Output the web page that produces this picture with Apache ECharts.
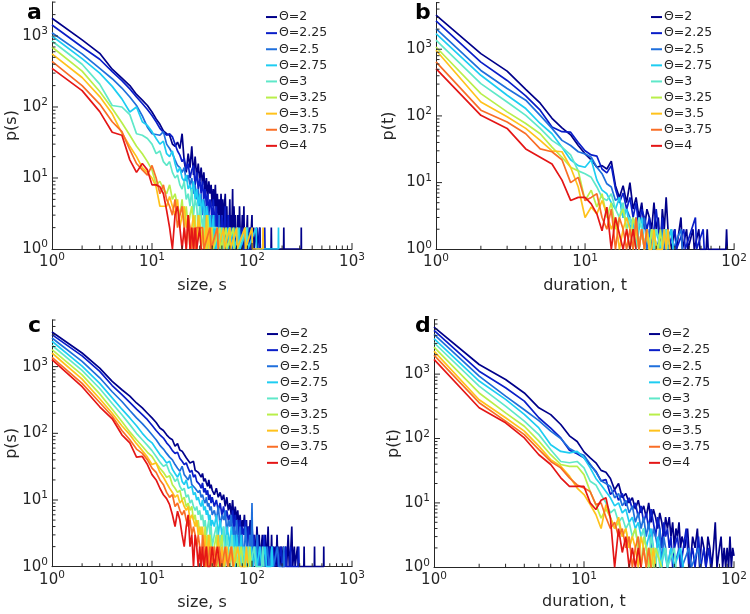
<!DOCTYPE html>
<html>
<head>
<meta charset="utf-8">
<script src="https://cdn.jsdelivr.net/npm/echarts@6/dist/echarts.min.js"></script>
<style>html,body{margin:0;padding:0;background:#fff}#chart{width:750px;height:614px}</style>
</head>
<body>
<div id="chart"></div>
<script>
// ---------- categories ----------
const thetaNames = ['Θ=2','Θ=2.25','Θ=2.5','Θ=2.75','Θ=3','Θ=3.25','Θ=3.5','Θ=3.75','Θ=4'];
const thetaColors = ['#00008a','#0a1ec8','#1f6fdc','#1ecdf2','#5fe8c9','#b9ef4a','#ffc21c','#f96e26','#e41616'];

// ---------- panel a : p(s) vs size s (head = values at s = 1,2,3,...; tail = [s, p]) ----------
const a_T2 = [1780,880,570,340,255,200,150,125,105,85,68,57,46,42,40,30,28,32,26,42,17,12,22,14,28,11,20,10,16,9,14,8,12,6,10,5,9,6,8,4,7,4,8,3,6,3,5,2,6,3,5,2,4,6,2,4,1,3,2,5,1,3,2,7,1,4,2,3,1,2,1,3];
const a_T2_tail = [[74,1],[75,4],[76,2],[78,1],[80,3],[81,1],[83,4],[84,1],[86,2],[87,1],[90,3],[91,1],[95,2],[96,1],[100,3],[101,1],[104,2],[105,1],[112,2],[113,1],[120,2],[121,1],[155,1],[156,2],[157,1],[207,1],[208,2],[209,1],[310,1],[311,2],[312,1]];
const a_T225 = [1430,700,470,315,235,180,138,112,92,76,62,50,44,40,42,38,30,24,21,17,19,13,16,10,13,15,8,12,7,10,6,9,5,7,4,6,3,5,4,2,5,3,2,4,1,3,2,2,1,3,2,1,2,4,1,2,1,3,1,2];
const a_T225_tail = [[63,1],[65,2],[66,1],[72,2],[73,1],[80,2],[81,1],[95,1],[96,2],[97,1],[118,1],[119,2],[120,1],[133,1],[134,2],[135,1]];
const a_T25 = [1110,560,350,250,185,138,105,75,52,42,41,40,45,30,26,22,18,15,14,12,14,9,11,8,10,6,8,5,7,4,6,3,5,4,2,4,3,2,3,1,2,3,1,2,2,1,3,1,2,1];
const a_T25_tail = [[55,2],[56,1],[62,2],[63,1],[70,2],[71,1],[85,2],[86,1],[100,2],[101,1]];
const a_T275 = [1000,480,300,195,130,85,100,62,55,45,36,30,33,22,20,24,16,12,14,10,9,11,7,8,6,9,5,7,4,6,3,5,4,2,4,3,2,3,1,2,3,1,2,1,2,1,2,1,1,2];
const a_T275_tail = [[52,1],[58,2],[59,1],[66,2],[67,1],[75,2],[76,1],[90,2],[91,1],[110,2],[111,1],[183,1],[184,2],[185,1]];
const a_T3 = [850,400,210,105,100,78,42,40,36,30,22,24,17,15,17,12,10,11,8,7,9,5,6,4,7,3,5,4,2,4,3,2,3,1,2,3,1,2,1,2];
const a_T3_tail = [[45,2],[46,1],[50,2],[51,1],[60,2],[61,1],[72,2],[73,1],[88,2],[89,1]];
const a_T325 = [700,320,165,95,60,40,28,22,17,13,8,9,7,6,8,5,6,4,3,5,2,4,2,3,4,2,3,1,2,3,1,2,1,2,1,3];
const a_T325_tail = [[38,1],[40,2],[41,1],[48,2],[49,1],[55,2],[56,1],[65,2],[66,1]];
const a_T35 = [560,260,140,80,43,28,20,14,12,10,7.5,4,4,4,5.5,4,3,5,2,3,4,2,3,1,2,3,2,1,3,2,1,2,2,1,3,1,2,1,2,1];
const a_T35_tail = [[45,2],[46,1],[52,2],[53,1],[60,2],[61,1],[70,2],[71,1],[85,2],[86,1],[100,2],[101,1],[128,1],[129,2],[130,1]];
const a_T375 = [440,200,110,62,45,25,16,13,11,15,10,6,8,5,4,3,5,2,3,4,2,1,3,2,1,2,1,2];
const a_T375_tail = [[32,2],[33,1],[38,2],[39,1],[45,2],[46,1]];
const a_T4 = [350,170,86,44,40,18,12,16,13,8,8,7.5,6,3.5,2,1,3,4,2,1,2,1,3,1,2,1,2,1,1,2,1,1];
const a_T4_tail = [];

// ---------- panel b : p(t) vs duration t ----------
const b_T2 = [3240,860,470,250,155,92,66,52,36,27,22,17,18,16,21,9,6,9,5,10,4,6,3,5,2,4,3,2,5,2,3,1,4,2,6,2];
const b_T2_tail = [[38,1],[40,2],[41,1],[44,3],[45,1],[48,2],[49,1],[53,2],[54,1],[58,2],[59,1],[65,1],[66,2],[67,1],[88,1],[89,2],[90,1]];
const b_T225 = [2650,640,340,200,122,68,58,57,40,30,26,25,16,14,18,8,5,7,4,6,3,5,2,4,3,2,3,1,2,4,2,1,3,1,2,1];
const b_T225_tail = [[40,2],[41,1],[46,2],[47,1],[55,3],[56,1],[62,2],[63,1]];
const b_T25 = [2040,480,257,172,102,65,43,36,29,27,24,17,13.6,9.6,8.6,5.4,6,3,4,3,2,3,1,2,3,1,2,1,2,1];
const b_T25_tail = [[33,2],[34,1],[38,2],[39,1],[44,2],[45,1]];
const b_T275 = [1720,407,204,129,77,54,34,22,18,17,22,10.9,7.7,6.8,5,4,6,3,4,2,3,1,2,3,1,2,1,2,1,2];
const b_T275_tail = [[32,1],[34,2],[35,1],[38,2],[39,1]];
const b_T3 = [1365,305,162,102,65,43,34,26,15,13.6,12,8.6,6,5.4,6.8,4,3,5,2,3,2,1,3,2,1,2,1,2,1,2];
const b_T3_tail = [[33,1],[35,2],[36,1]];
const b_T325 = [1080,216,115,77,54,34,24,17,15,5.4,7.7,4.3,6.8,3,5,2,3,4,2,1,3,2,1,2,1,2,1,2];
const b_T325_tail = [[31,1],[32,2],[33,1]];
const b_T35 = [966,162,97,65,43,30,29,17,8.6,3,4.3,3.4,5.4,3.4,2,3,1,2,3,2,1,2,1,2,1,2,1,1,2,1];
const b_T35_tail = [[33,1],[34,2],[35,1],[36,2],[37,1]];
const b_T375 = [645,122,81,54,32,29,22,10,12,5.4,6,6.8,3,2,4,1,3,2,1,2,1,3,1,2,1,2];
const b_T375_tail = [];
const b_T4 = [513,102,65,32,24,19,10.9,5.4,6,6,4.8,3.4,1.9,4.3,1,3,1.7,1,2,1,2,1];
const b_T4_tail = [];

// ---------- panel c : p(s) vs size s ----------
const c_T2 = [3300,1600,950,600,450,360,285,240,200,170,145,120,110,95,85,80,64,70,56,54,48,43,46,36,34,38,28,30,26,24,22,25,19,21,18,16,20,15,17,14];
const c_T2_tail = [[42,12],[44,15],[46,11],[48,13],[50,10],[52,12],[54,8],[56,11],[58,7],[60,9],[62,6],[64,10],[66,5],[68,8],[70,5],[72,7],[74,4],[76,6],[78,3],[80,5],[82,4],[84,6],[86,3],[88,5],[90,2],[92,4],[94,3],[96,5],[98,2],[100,4],[103,2],[106,3],[109,1],[112,4],[115,2],[118,3],[121,1],[124,2],[127,3],[130,1],[133,2],[136,3],[139,1],[142,2],[145,4],[148,1],[151,2],[154,1],[157,3],[160,1],[163,2],[166,1],[170,2],[174,1],[178,3],[182,1],[186,2],[190,1],[195,2],[200,1],[205,2],[210,1],[216,2],[222,1],[230,3],[236,1],[245,2],[250,4],[255,1],[265,2],[270,1],[285,2],[290,1],[330,1],[332,2],[334,1],[420,1],[422,2],[424,1],[520,1],[522,2],[524,1]];
const c_T225 = [3020,1450,850,520,380,290,230,190,160,132,110,95,85,72,64,55,50,52,42,38,34,36,30,26,28,22,24,19,20,17,15,18,13,15,12,14,10,12,9,11];
const c_T225_tail = [[42,8],[44,10],[46,7],[48,9],[50,6],[52,8],[54,5],[56,7],[58,5],[60,6],[62,4],[64,7],[66,3],[68,6],[70,4],[72,5],[74,3],[76,5],[78,2],[80,4],[83,3],[86,5],[89,2],[92,4],[95,2],[98,3],[101,1],[104,3],[107,2],[110,1],[113,3],[116,1],[119,2],[122,1],[125,2],[128,1],[132,3],[136,1],[140,2],[144,1],[150,2],[155,1],[162,2],[168,1],[175,2],[182,1],[195,2],[200,1],[215,1],[218,2],[221,1],[240,1],[243,2],[246,1],[290,1],[293,2],[296,1]];
const c_T25 = [2690,1200,680,420,300,220,170,140,115,95,80,66,58,50,44,40,34,30,27,32,24,22,20,24,17,18,15,16,13,14,11,12,10,9,11,8,9,7,8,6];
const c_T25_tail = [[42,7],[44,5],[46,8],[48,4],[50,6],[52,5],[54,7],[56,3],[58,5],[60,4],[62,6],[64,3],[66,4],[68,2],[70,5],[72,3],[74,2],[76,4],[78,2],[80,3],[83,1],[86,4],[89,2],[92,1],[95,3],[98,2],[100,9],[102,1],[105,2],[109,1],[113,3],[117,1],[121,2],[125,1],[130,2],[135,1],[142,2],[148,1],[158,2],[164,1],[180,2],[186,1],[205,1],[208,2],[211,1]];
const c_T275 = [2400,1020,560,340,230,170,130,100,82,72,58,48,42,36,38,29,25,22,26,19,17,20,15,14,16,12,13,10,11,9,8,10,7,8,6,7,5,6,4,5];
const c_T275_tail = [[42,4],[44,6],[46,3],[48,5],[50,3],[52,4],[54,2],[56,4],[58,3],[60,2],[62,4],[64,2],[66,3],[68,1],[70,3],[72,2],[75,1],[78,3],[81,1],[84,2],[87,1],[90,2],[94,1],[98,2],[102,1],[108,2],[112,1],[120,2],[125,1],[135,2],[140,1],[155,1],[158,2],[161,1]];
const c_T3 = [2090,880,470,280,190,135,100,80,66,55,45,37,32,34,26,23,19,21,16,14,15,11,12,9,10,8,7,8,6,7,5,6,4,5,3,4,5,3,4,2];
const c_T3_tail = [[42,3],[44,4],[46,2],[48,3],[50,2],[52,4],[54,1],[56,3],[58,2],[60,1],[63,3],[66,1],[69,2],[72,1],[75,2],[78,1],[82,2],[86,1],[92,2],[96,1],[105,2],[110,1],[125,1],[128,2],[131,1]];
const c_T325 = [1800,750,390,230,150,105,80,64,52,45,36,30,26,22,23,17,15,13,14,10,11,8,9,7,8,5,6,4,5,3,4,3,2,4,2,3,1,3,2,1];
const c_T325_tail = [[42,2],[44,3],[46,1],[48,2],[50,3],[52,1],[55,2],[58,1],[61,2],[64,1],[68,2],[72,1],[78,2],[82,1],[92,1],[95,2],[98,1]];
const c_T35 = [1600,650,330,200,130,95,70,55,44,34,36,26,22,18,15,13,11,12,9,10,8,7,8,5,6,5,4,5,3,4,3,4,2,3,1,2,3,1,2,1];
const c_T35_tail = [[42,2],[44,1],[46,3],[48,1],[50,2],[53,1],[56,2],[59,1],[63,2],[66,1],[72,2],[76,1],[85,1],[88,2],[91,1]];
const c_T375 = [1380,560,290,180,110,80,58,50,40,30,26,20,17,13,11,12,8,9,7,6,7,5,4,5,3,4,3,2,3,2,1,3,2,1,2,1];
const c_T375_tail = [[38,2],[40,1],[42,2],[44,1],[47,2],[50,1],[54,2],[57,1],[62,2],[65,1]];
const c_T4 = [1270,500,250,165,95,72,44,45,34,24,20,15,12,10.5,8.5,6,4,6.8,5,3,2,4,6,2,3,1,3,2,1,2,1,2,1,1,2,1];
const c_T4_tail = [[38,1],[40,2],[42,1],[45,2],[48,1]];

// ---------- panel d : p(t) vs duration t ----------
const d_T2 = [5370,1410,825,510,300,235,165,110,90,62,50,42,32,30,24,16,20,12,14,10,12,8,11,7,9,6,10,5,8,6,4,7,5,3,6,4,6,3,5,2,4,3,5,2,3];
const d_T2_tail = [[47,2],[49,4],[51,1],[53,3],[55,2],[57,4],[59,1],[61,3],[63,2],[65,1],[67,3],[69,2],[71,1],[73,2],[75,5],[77,1],[80,2],[82,3],[84,1],[86,2],[88,1],[90,2],[92,1],[94,3],[96,1],[98,2],[100,1.5]];
const d_T225 = [4770,1110,615,380,210,145,102,66,58,50,39,31,22,23,13.5,16,11,14,9,12,8,10,6,9,5,7,4,8,5,3,6,4,2,5,3,4,2,3,1,2];
const d_T225_tail = [[42,3],[44,1],[46,2],[48,4],[50,1],[53,2],[55,1],[58,3],[60,1],[63,2],[65,1],[68,2],[70,1]];
const d_T25 = [4140,930,455,280,190,130,100,70,60,55,40,30,22,20,18,12,14,9,11,7,9,5,7,4,6,3,5,2,4,3,2,4,1,3,2,1];
const d_T25_tail = [[38,2],[40,1],[43,2],[45,1],[50,2],[52,1],[58,2],[60,1]];
const d_T275 = [3570,780,405,237,146,80,63,60,63,50,35,24,19,15,12,9,10,7,8,5,6,4,5,3,4,2,3,4,2,1,3,2,1,2];
const d_T275_tail = [[36,1],[38,2],[40,1],[44,2],[46,1]];
const d_T3 = [3070,650,318,186,115,67,44,42,44,35,21.7,19,13.5,10,7,8,5,6,4,5,3,4,2,3,4,2,1,3,2,1,2,1];
const d_T3_tail = [[35,2],[36,1],[40,2],[41,1]];
const d_T325 = [2630,510,250,155,91,56,39.5,37,37,27.5,15,9.4,5.8,8,6,4,5,3,4,2,3,4,2,1,3,2,1,2,1,2];
const d_T325_tail = [[33,1]];
const d_T35 = [2270,400,210,130,76,47,37,26,17,13.5,9.4,6.6,4,9.4,5.8,4,6,3,4,2,3,2,1,3,2,1,2,1,2,1];
const d_T35_tail = [];
const d_T375 = [1970,360,186,115,67,44,35,24.5,19,17,15,9.4,10,6,4,5,3,4,2,3,1,2,3,1,2,1,2,1];
const d_T375_tail = [];
const d_T4 = [1690,300,175,102,56,39.5,24.5,18,18,18,10,7.9,11,12,5.8,1,4,1.7,3,1,2,1,2,1];
const d_T4_tail = [];

// ---------- assemble ----------
function pairs(head, tail) {
  const out = head.map(function (v, i) { return [i + 1, v]; });
  return out.concat(tail || []);
}
const seriesA = [pairs(a_T2,a_T2_tail),pairs(a_T225,a_T225_tail),pairs(a_T25,a_T25_tail),pairs(a_T275,a_T275_tail),pairs(a_T3,a_T3_tail),pairs(a_T325,a_T325_tail),pairs(a_T35,a_T35_tail),pairs(a_T375,a_T375_tail),pairs(a_T4,a_T4_tail)];
const seriesB = [pairs(b_T2,b_T2_tail),pairs(b_T225,b_T225_tail),pairs(b_T25,b_T25_tail),pairs(b_T275,b_T275_tail),pairs(b_T3,b_T3_tail),pairs(b_T325,b_T325_tail),pairs(b_T35,b_T35_tail),pairs(b_T375,b_T375_tail),pairs(b_T4,b_T4_tail)];
const seriesC = [pairs(c_T2,c_T2_tail),pairs(c_T225,c_T225_tail),pairs(c_T25,c_T25_tail),pairs(c_T275,c_T275_tail),pairs(c_T3,c_T3_tail),pairs(c_T325,c_T325_tail),pairs(c_T35,c_T35_tail),pairs(c_T375,c_T375_tail),pairs(c_T4,c_T4_tail)];
const seriesD = [pairs(d_T2,d_T2_tail),pairs(d_T225,d_T225_tail),pairs(d_T25,d_T25_tail),pairs(d_T275,d_T275_tail),pairs(d_T3,d_T3_tail),pairs(d_T325,d_T325_tail),pairs(d_T35,d_T35_tail),pairs(d_T375,d_T375_tail),pairs(d_T4,d_T4_tail)];
const panelsData = [seriesA, seriesB, seriesC, seriesD];

const panelInfo = [
  {letter:'a', xName:'size, s', yName:'p(s)', xMax:1000, yMax:3000},
  {letter:'b', xName:'duration, t', yName:'p(t)', xMax:100, yMax:5000},
  {letter:'c', xName:'size, s', yName:'p(s)', xMax:1000, yMax:5000},
  {letter:'d', xName:'duration, t', yName:'p(t)', xMax:100, yMax:7000}
];

// layout (positions / sizes)
const layout = [
  {grid:{left:52, top:2.1, width:300, height:246.9}, legend:{left:266, top:9}, letter:{x:27, y:13}, xNameGap:29, yNameGap:32},
  {grid:{left:436, top:2.6, width:300, height:246.7}, legend:{left:651, top:9}, letter:{x:415, y:13}, xNameGap:29, yNameGap:39},
  {grid:{left:52, top:320, width:300, height:246.7}, legend:{left:267, top:326}, letter:{x:28, y:326}, xNameGap:28, yNameGap:32},
  {grid:{left:434, top:319.7, width:300, height:247.6}, legend:{left:649, top:326}, letter:{x:415, y:326}, xNameGap:27, yNameGap:32}
];

const FONT = "'DejaVu Sans', sans-serif";
const INK = '#262626';
const MAJOR_LEN = 6, MINOR_LEN = 3.5;

function powLabel(v) {
  const e = Math.log10(v);
  const r = Math.round(e);
  if (Math.abs(e - r) > 1e-6) return '';
  return '{b|10}{s|' + r + '}';
}
const powRich = {
  b: {fontSize: 15, fontFamily: FONT, color: INK, lineHeight: 20},
  s: {fontSize: 10.5, fontFamily: FONT, color: INK, lineHeight: 10, verticalAlign: 'top'}
};
// tick positions on a log axis (decades and 2..9 subdivisions)
function decadeValues(maxVal) {
  const out = [];
  for (let d = 0; Math.pow(10, d) <= maxVal * 1.0001; d++) out.push(Math.pow(10, d));
  return out;
}
function subValues(maxVal) {
  const out = [];
  for (let d = 0; Math.pow(10, d) <= maxVal; d++) {
    for (let k = 2; k <= 9; k++) {
      const v = k * Math.pow(10, d);
      if (v <= maxVal * 1.0001) out.push(v);
    }
  }
  return out;
}
// inward tick marks drawn as thin rect symbols placed through the axes' own log scales
function tickMarks(i, dim, values, len) {
  const data = values.map(function (v) { return dim === 'x' ? [v, 1] : [1, v]; });
  return {
    type: 'scatter', xAxisIndex: i, yAxisIndex: i, data: data, silent: true, animation: false,
    clip: false, z: 6, legendHoverLink: false, symbol: 'rect',
    symbolSize: dim === 'x' ? [1, len] : [len, 1],
    symbolOffset: dim === 'x' ? [0, -len / 2] : [len / 2, 0],
    itemStyle: {color: INK, opacity: 1},
    emphasis: {disabled: true}, tooltip: {show: false}
  };
}

const grids = layout.map(function (l) { return Object.assign({containLabel: false}, l.grid); });
const xAxes = [], yAxes = [];
panelInfo.forEach(function (p, i) {
  xAxes.push({
    type: 'log', logBase: 10, gridIndex: i, min: 1, max: p.xMax, position: 'bottom',
    name: p.xName, nameLocation: 'middle', nameGap: layout[i].xNameGap, nameMoveOverlap: false,
    nameTextStyle: {fontFamily: FONT, fontSize: 16, color: INK},
    axisLine: {show: true, onZero: false, lineStyle: {color: INK, width: 1}},
    axisTick: {show: false}, minorTick: {show: false}, splitLine: {show: false}, minorSplitLine: {show: false},
    axisLabel: {formatter: powLabel, rich: powRich, margin: 3, color: INK}
  });
  yAxes.push({
    type: 'log', logBase: 10, gridIndex: i, min: 1, max: p.yMax, position: 'left',
    name: p.yName, nameLocation: 'middle', nameGap: layout[i].yNameGap, nameMoveOverlap: false,
    nameTextStyle: {fontFamily: FONT, fontSize: 16, color: INK},
    axisLine: {show: true, onZero: false, lineStyle: {color: INK, width: 1}},
    axisTick: {show: false}, minorTick: {show: false}, splitLine: {show: false}, minorSplitLine: {show: false},
    axisLabel: {formatter: powLabel, rich: powRich, margin: 4, color: INK}
  });
});

const series = [];
panelsData.forEach(function (list, i) {
  list.forEach(function (data, k) {
    series.push({
      type: 'line', name: thetaNames[k], xAxisIndex: i, yAxisIndex: i, data: data,
      showSymbol: false, symbol: 'none', clip: true, silent: true, animation: false,
      color: thetaColors[k],
      lineStyle: {width: 1.7, color: thetaColors[k]},
      itemStyle: {color: thetaColors[k]},
      emphasis: {disabled: true}
    });
  });
});
panelInfo.forEach(function (p, i) {
  series.push(tickMarks(i, 'x', decadeValues(p.xMax).slice(1), MAJOR_LEN));
  series.push(tickMarks(i, 'x', subValues(p.xMax), MINOR_LEN));
  series.push(tickMarks(i, 'y', decadeValues(p.yMax).slice(1), MAJOR_LEN));
  series.push(tickMarks(i, 'y', subValues(p.yMax), MINOR_LEN));
});

const legends = layout.map(function (l) {
  return {
    orient: 'vertical', left: l.legend.left, top: l.legend.top, padding: 0, itemGap: 0,
    itemWidth: 11, itemHeight: 2, icon: 'rect', selectedMode: false,
    data: thetaNames.slice(),
    textStyle: {fontFamily: FONT, fontSize: 12.5, color: INK, lineHeight: 16.1, padding: [0, 0, 0, -3]}
  };
});

const letters = panelInfo.map(function (p, i) {
  return {
    type: 'text', x: layout[i].letter.x, y: layout[i].letter.y, silent: true,
    style: {text: p.letter, fill: '#000', fontSize: 22, fontWeight: 'bold', fontFamily: FONT,
            align: 'left', verticalAlign: 'middle', textAlign: 'left', textVerticalAlign: 'middle'}
  };
});

const chart = echarts.init(document.getElementById('chart'), null, {renderer: 'canvas'});
chart.setOption({
  animation: false,
  backgroundColor: '#ffffff',
  textStyle: {fontFamily: FONT},
  grid: grids,
  xAxis: xAxes,
  yAxis: yAxes,
  legend: legends,
  graphic: letters,
  series: series
});
</script>
</body>
</html>
